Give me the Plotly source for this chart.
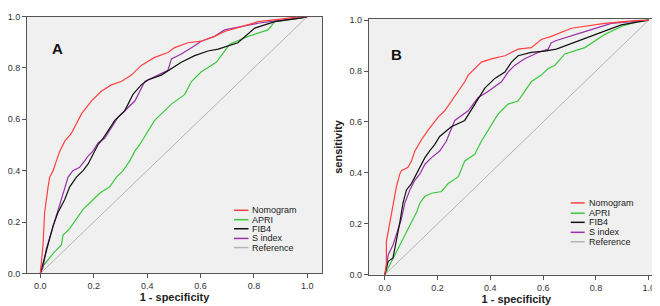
import plotly.graph_objects as go

# ---------------- data ----------------
series_names = ["Nomogram", "APRI", "FIB4", "S index", "Reference"]
series_colors = ["#ff4040", "#3cc83c", "#111111", "#9932a8", "#b4b4b4"]

# Panel A
a_nomogram_x = [0, 0.004, 0.010, 0.016, 0.023, 0.029, 0.035, 0.048, 0.06, 0.073, 0.091, 0.116, 0.154, 0.191, 0.228, 0.266, 0.303, 0.341, 0.378, 0.428, 0.478, 0.503, 0.553, 0.603, 0.653, 0.69, 0.75, 0.815, 0.9, 0.965, 1]
a_nomogram_y = [0, 0.05, 0.111, 0.237, 0.3, 0.337, 0.375, 0.4, 0.438, 0.476, 0.514, 0.545, 0.621, 0.671, 0.709, 0.734, 0.747, 0.772, 0.81, 0.841, 0.86, 0.879, 0.898, 0.904, 0.923, 0.942, 0.96, 0.98, 0.99, 0.999, 1]
a_apri_x = [0, 0.003, 0.01, 0.035, 0.054, 0.079, 0.085, 0.11, 0.135, 0.16, 0.185, 0.222, 0.26, 0.285, 0.31, 0.335, 0.354, 0.372, 0.428, 0.491, 0.541, 0.566, 0.603, 0.64, 0.659, 0.709, 0.778, 0.853, 0.878, 0.98, 1]
a_apri_y = [0, 0.025, 0.029, 0.06, 0.085, 0.111, 0.149, 0.174, 0.212, 0.249, 0.274, 0.312, 0.337, 0.375, 0.4, 0.438, 0.476, 0.501, 0.596, 0.659, 0.697, 0.747, 0.785, 0.81, 0.822, 0.892, 0.923, 0.948, 0.98, 0.995, 1]
a_fib4_x = [0, 0.01, 0.023, 0.048, 0.066, 0.091, 0.11, 0.135, 0.16, 0.179, 0.197, 0.216, 0.235, 0.279, 0.316, 0.347, 0.378, 0.403, 0.453, 0.491, 0.528, 0.578, 0.628, 0.666, 0.74, 0.803, 0.878, 0.98, 1]
a_fib4_y = [0, 0.04, 0.085, 0.186, 0.237, 0.287, 0.337, 0.375, 0.4, 0.426, 0.463, 0.501, 0.526, 0.596, 0.633, 0.697, 0.734, 0.753, 0.772, 0.797, 0.822, 0.848, 0.866, 0.873, 0.898, 0.955, 0.98, 0.995, 1]
a_sindex_x = [0, 0.01, 0.023, 0.041, 0.06, 0.073, 0.085, 0.104, 0.122, 0.147, 0.166, 0.179, 0.197, 0.216, 0.241, 0.291, 0.354, 0.391, 0.441, 0.478, 0.491, 0.528, 0.566, 0.603, 0.653, 0.69, 0.815, 0.95, 1]
a_sindex_y = [0, 0.023, 0.098, 0.161, 0.224, 0.274, 0.312, 0.375, 0.4, 0.413, 0.438, 0.457, 0.476, 0.508, 0.526, 0.608, 0.671, 0.747, 0.772, 0.791, 0.835, 0.854, 0.879, 0.904, 0.923, 0.948, 0.974, 0.995, 1]

# Panel B
b_nomogram_x = [0, 0.006, 0.006, 0.019, 0.031, 0.044, 0.057, 0.063, 0.088, 0.101, 0.114, 0.139, 0.164, 0.202, 0.227, 0.252, 0.278, 0.303, 0.316, 0.341, 0.366, 0.404, 0.455, 0.505, 0.555, 0.593, 0.631, 0.707, 0.833, 0.95, 1]
b_nomogram_y = [0, 0.041, 0.13, 0.206, 0.282, 0.346, 0.396, 0.409, 0.422, 0.447, 0.486, 0.53, 0.568, 0.619, 0.644, 0.682, 0.72, 0.758, 0.784, 0.81, 0.835, 0.848, 0.86, 0.886, 0.892, 0.924, 0.936, 0.968, 0.987, 0.998, 1]
b_apri_x = [0, 0.025, 0.05, 0.076, 0.101, 0.12, 0.133, 0.152, 0.177, 0.215, 0.24, 0.278, 0.303, 0.341, 0.366, 0.391, 0.429, 0.467, 0.505, 0.53, 0.555, 0.593, 0.619, 0.644, 0.682, 0.758, 0.833, 0.896, 0.96, 1]
b_apri_y = [0, 0.053, 0.104, 0.155, 0.206, 0.244, 0.282, 0.308, 0.32, 0.327, 0.358, 0.384, 0.447, 0.473, 0.524, 0.568, 0.631, 0.67, 0.682, 0.72, 0.758, 0.784, 0.81, 0.822, 0.867, 0.892, 0.943, 0.975, 0.995, 1]
b_fib4_x = [0, 0.013, 0.031, 0.044, 0.057, 0.069, 0.082, 0.101, 0.12, 0.133, 0.152, 0.17, 0.189, 0.208, 0.252, 0.303, 0.341, 0.379, 0.417, 0.455, 0.48, 0.505, 0.555, 0.606, 0.65, 0.732, 0.833, 0.896, 1]
b_fib4_y = [0, 0.053, 0.066, 0.13, 0.206, 0.282, 0.333, 0.358, 0.396, 0.422, 0.46, 0.486, 0.511, 0.543, 0.581, 0.606, 0.67, 0.733, 0.771, 0.796, 0.835, 0.86, 0.873, 0.878, 0.886, 0.917, 0.955, 0.981, 1]
b_sindex_x = [0, 0.013, 0.031, 0.05, 0.063, 0.076, 0.095, 0.114, 0.133, 0.152, 0.177, 0.208, 0.233, 0.265, 0.316, 0.353, 0.391, 0.442, 0.467, 0.492, 0.53, 0.581, 0.619, 0.631, 0.65, 0.758, 0.858, 1]
b_sindex_y = [0, 0.079, 0.117, 0.181, 0.219, 0.282, 0.333, 0.371, 0.396, 0.434, 0.46, 0.486, 0.524, 0.606, 0.644, 0.695, 0.72, 0.758, 0.796, 0.822, 0.848, 0.873, 0.886, 0.911, 0.92, 0.955, 0.987, 1]

reference_x = [0, 1]
reference_y = [0, 1]

tick_vals = [0.0, 0.2, 0.4, 0.6, 0.8, 1.0]
tick_text = ["0.0", "0.2", "0.4", "0.6", "0.8", "1.0"]
panel_labels = ["A", "B"]
x_title = "1 - specificity"
y_title = "sensitivity"

# ---------------- figure ----------------
FONT = "Arial, Liberation Sans, sans-serif"
fig = go.Figure()

panels = [
    ("x", "y", [(a_nomogram_x, a_nomogram_y), (a_apri_x, a_apri_y), (a_fib4_x, a_fib4_y), (a_sindex_x, a_sindex_y)]),
    ("x2", "y2", [(b_nomogram_x, b_nomogram_y), (b_apri_x, b_apri_y), (b_fib4_x, b_fib4_y), (b_sindex_x, b_sindex_y)]),
]

for xa, ya, curves in panels:
    fig.add_trace(go.Scatter(x=reference_x, y=reference_y, mode="lines", xaxis=xa, yaxis=ya,
                             line=dict(color=series_colors[4], width=1), name=series_names[4],
                             showlegend=False, hoverinfo="skip"))
    order = [1, 3, 2, 0]  # APRI, S index, FIB4, Nomogram (red on top)
    for i in order:
        cx, cy = curves[i]
        fig.add_trace(go.Scatter(x=cx, y=cy, mode="lines", xaxis=xa, yaxis=ya,
                                 line=dict(color=series_colors[i], width=1.2),
                                 name=series_names[i], showlegend=False))

axis_common = dict(
    showgrid=False, zeroline=False, showline=True, mirror=True,
    linecolor="#555555", linewidth=1, ticks="outside", ticklen=4,
    tickcolor="#555555", tickvals=tick_vals, ticktext=tick_text,
    tickfont=dict(family=FONT, size=9, color="#333333"),
)

W, H = 660, 306
fig.update_layout(
    width=W, height=H, margin=dict(l=0, r=0, t=0, b=0),
    paper_bgcolor="white", plot_bgcolor="#f0f0f0", showlegend=False,
    xaxis=dict(domain=[19 / W, 314 / W], range=[-0.05, 1.055],
               title=dict(text="<b>" + x_title + "</b>", font=dict(family=FONT, size=11, color="#222"), standoff=3),
               **axis_common),
    yaxis=dict(domain=[1 - 269.3 / H, 1 - 4.7 / H], range=[0, 1], **axis_common),
    xaxis2=dict(domain=[360.7 / W, 656 / W], range=[-0.061, 1.058], anchor="y2",
                title=dict(text="<b>" + x_title + "</b>", font=dict(family=FONT, size=11, color="#222"), standoff=3),
                **axis_common),
    yaxis2=dict(domain=[1 - 270.7 / H, 1 - 7.3 / H], range=[0, 1.004], anchor="x2",
                title=dict(text="<b>" + y_title + "</b>", font=dict(family=FONT, size=11, color="#222"), standoff=4),
                **axis_common),
)

# panel letters
fig.add_annotation(x=41.7 / W, y=1 - 26.7 / H, xref="paper", yref="paper", text="<b>" + panel_labels[0] + "</b>",
                   showarrow=False, font=dict(family=FONT, size=15, color="#111"))
fig.add_annotation(x=388.3 / W, y=1 - 33.3 / H, xref="paper", yref="paper", text="<b>" + panel_labels[1] + "</b>",
                   showarrow=False, font=dict(family=FONT, size=15, color="#111"))

# compact legends (one per panel)
legend_layouts = [
    (226, 240.5, 242.3, [204.3, 214, 223.3, 233.3, 242.7]),
    (562.7, 576.7, 578.7, [196.7, 207.3, 216.7, 227, 236.7]),
]
for x0, x1, xt, rows in legend_layouts:
    for name, color, ry in zip(series_names, series_colors, rows):
        fig.add_shape(type="line", xref="paper", yref="paper", x0=x0 / W, x1=x1 / W,
                      y0=1 - ry / H, y1=1 - ry / H, line=dict(color=color, width=1.5))
        fig.add_annotation(x=xt / W, y=1 - ry / H, xref="paper", yref="paper", text=name,
                           xanchor="left", yanchor="middle", showarrow=False,
                           font=dict(family=FONT, size=9, color="#222"))

fig.write_html("out.html")
